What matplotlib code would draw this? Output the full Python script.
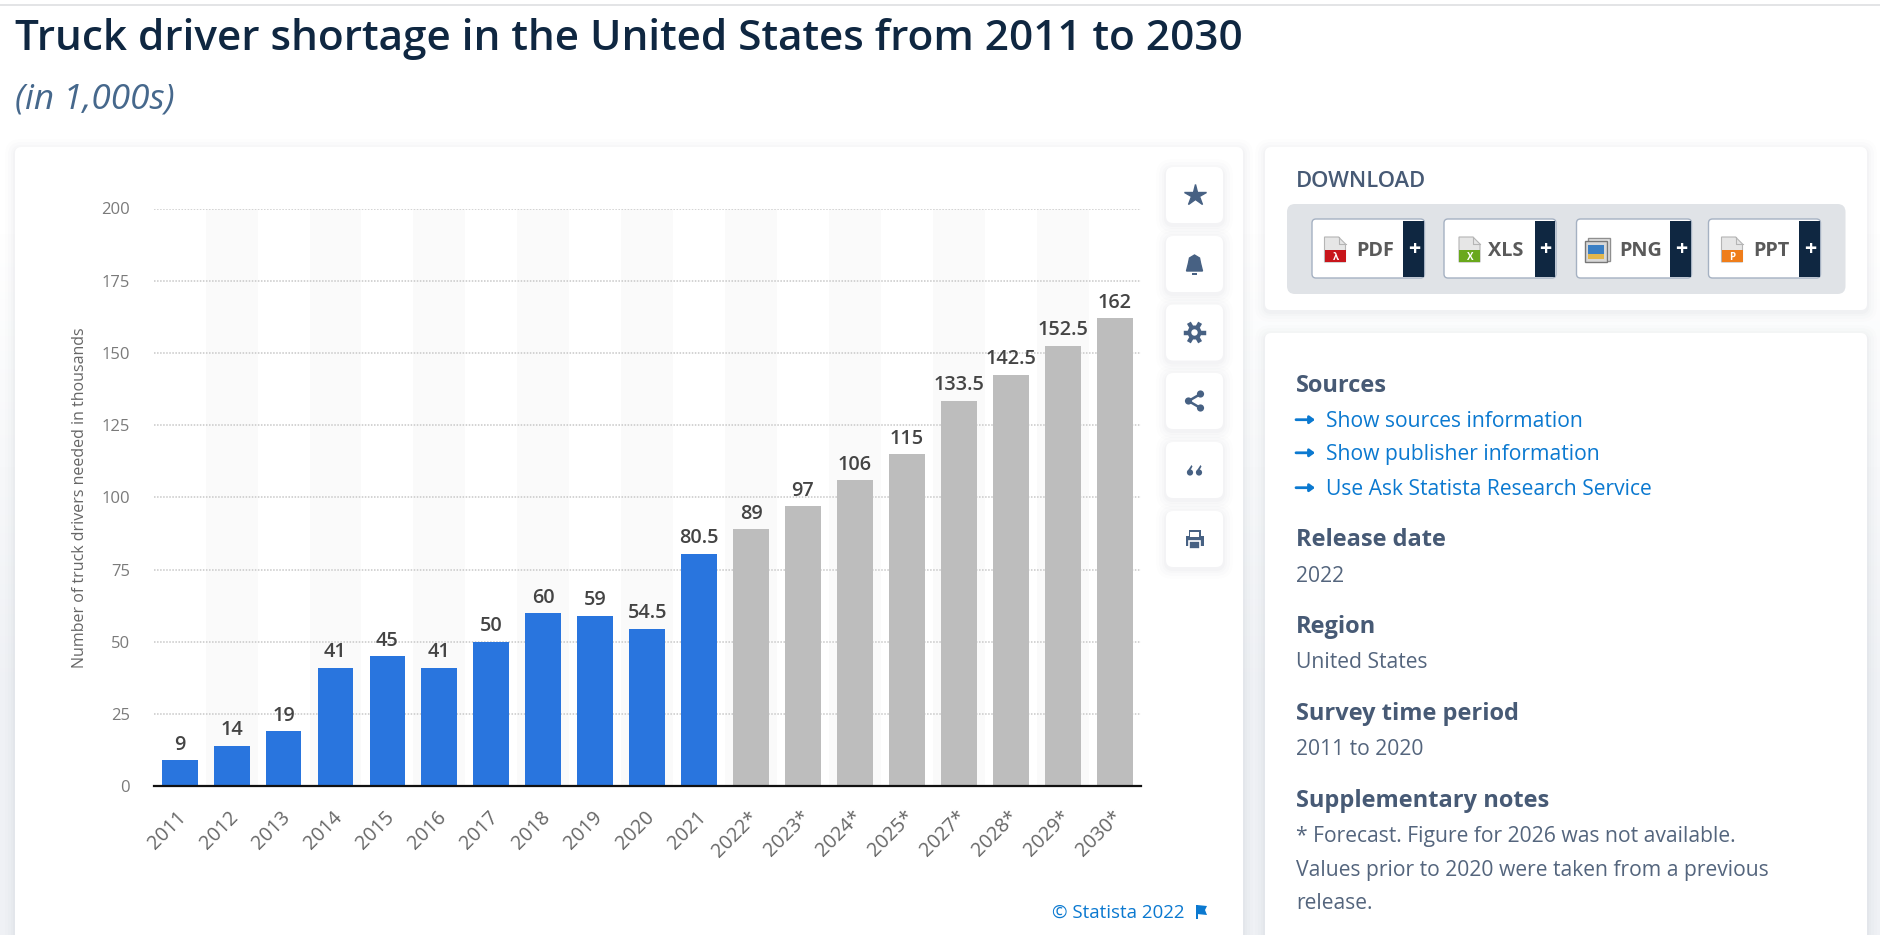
import numpy as np
import matplotlib
matplotlib.use("Agg")
import matplotlib.pyplot as plt
from matplotlib.patches import FancyBboxPatch, Rectangle, Polygon, Circle
from matplotlib.colors import LinearSegmentedColormap
from matplotlib.transforms import ScaledTranslation

plt.rcParams["font.family"] = ["Open Sans", "DejaVu Sans"]

# chart data
years = ["2011", "2012", "2013", "2014", "2015", "2016", "2017", "2018", "2019",
         "2020", "2021", "2022*", "2023*", "2024*", "2025*", "2027*", "2028*",
         "2029*", "2030*"]
values = [9, 14, 19, 41, 45, 41, 50, 60, 59, 54.5, 80.5, 89, 97, 106, 115,
          133.5, 142.5, 152.5, 162]
forecast = [False] * 11 + [True] * 8
y_ticks = [0, 25, 50, 75, 100, 125, 150, 175, 200]

W, H = 1880, 935
BLUE = "#2975de"
GREY = "#bdbdbd"
NAVY = "#0f2741"
SLATE = "#475a75"
BODY = "#54657d"
LINK = "#0b79d0"
TEXT_X = 1296

fig = plt.figure(figsize=(W / 100, H / 100), dpi=100, facecolor="white")

# whole-page axes in pixel coordinates for the surrounding page
page = fig.add_axes([0, 0, 1, 1], zorder=0)
page.axis("off")

bg = LinearSegmentedColormap.from_list("bg", ["#ffffff", "#ffffff", "#f7f8fa", "#eff1f5", "#eff1f5"])
page.imshow(np.linspace(0, 1, 256).reshape(-1, 1), cmap=bg, extent=[0, W, H, 0], aspect="auto", zorder=0)
page.set_xlim(0, W)
page.set_ylim(H, 0)

page.plot([0, W], [5, 5], color="#dedfe1", lw=1.2, zorder=1)


def card(x0, y0, x1, y1, face="white", radius=6, shadow=True, zorder=2, edge="none", lw=0):
    if shadow:
        for grow, a in [(10, 0.008), (7, 0.01), (4, 0.015), (2, 0.02)]:
            page.add_patch(FancyBboxPatch((x0 - grow, y0 - grow + 2), x1 - x0 + 2 * grow, y1 - y0 + 2 * grow,
                                          boxstyle=f"round,pad=0,rounding_size={radius + grow}",
                                          fc="#40506a", ec="none", alpha=a, zorder=zorder))
    page.add_patch(FancyBboxPatch((x0, y0), x1 - x0, y1 - y0,
                                  boxstyle=f"round,pad=0,rounding_size={radius}",
                                  fc=face, ec=edge, lw=lw, zorder=zorder + 0.1))


def label(x, y, s, size, color, **kw):
    page.text(x, y, s, fontsize=size, color=color, va="baseline", zorder=6, **kw)


card(15, 147, 1243, 990)
card(1265, 147, 1867, 310)
card(1265, 333, 1867, 990)

label(15, 50, "Truck driver shortage in the United States from 2011 to 2030", 30.4, NAVY, fontweight="semibold")
label(15, 108, "(in 1,000s)", 25.3, "#46688c", fontstyle="italic")

# side icon buttons
icon_x = 1194.5
icon_ys = [195, 264, 332.5, 401, 470, 539]
for cy in icon_ys:
    card(1166, cy - 28, 1223, cy + 28, radius=7, zorder=3)

ICON = "#476183"
page.plot(icon_x, icon_ys[0], marker="*", ms=16, color=ICON, mec=ICON, zorder=6)
# bell
cy = icon_ys[1]
page.add_patch(Polygon([(icon_x - 8, cy + 7), (icon_x - 6, cy - 1), (icon_x - 5, cy - 6), (icon_x, cy - 9),
                        (icon_x + 5, cy - 6), (icon_x + 6, cy - 1), (icon_x + 8, cy + 7)], fc=ICON, ec=ICON, zorder=6))
page.add_patch(Rectangle((icon_x - 2.5, cy + 8.5), 5, 2, fc=ICON, ec="none", zorder=6))
# gear
cy = icon_ys[2]
for ang in np.deg2rad([0, 60, 120]):
    page.plot([icon_x - 9 * np.cos(ang), icon_x + 9 * np.cos(ang)],
              [cy - 9 * np.sin(ang), cy + 9 * np.sin(ang)], color=ICON, lw=3.2, zorder=6)
page.add_patch(Circle((icon_x, cy), 7, fc=ICON, ec="none", zorder=6))
page.add_patch(Circle((icon_x, cy), 3.2, fc="white", ec="none", zorder=6.1))
# share
cy = icon_ys[3]
page.plot([icon_x + 6, icon_x - 6, icon_x + 6], [cy - 7, cy, cy + 7], color=ICON, lw=1.8, zorder=6)
for dx, dy in [(6, -7), (-6, 0), (6, 7)]:
    page.add_patch(Circle((icon_x + dx, cy + dy), 3.6, fc=ICON, ec="none", zorder=6))
# quote
cy = icon_ys[4]
for dx in (-4.5, 4.5):
    page.add_patch(Circle((icon_x + dx, cy + 2.5), 3.1, fc=ICON, ec="none", zorder=6))
    page.add_patch(Polygon([(icon_x + dx - 3.1, cy + 2), (icon_x + dx + 1.5, cy - 5), (icon_x + dx + 2.5, cy - 3.5),
                            (icon_x + dx, cy + 1)], fc=ICON, ec="none", zorder=6))
# printer
cy = icon_ys[5]
page.add_patch(Rectangle((icon_x - 9, cy - 3), 18, 10, fc=ICON, ec="none", zorder=6))
page.add_patch(Rectangle((icon_x - 6, cy - 9), 12, 6, fc=ICON, ec="none", zorder=6))
page.add_patch(Rectangle((icon_x - 4.5, cy - 7.5), 9, 5, fc="white", ec="none", zorder=6.1))
page.add_patch(Rectangle((icon_x - 5.5, cy + 2), 11, 8, fc=ICON, ec="white", lw=1.2, zorder=6.1))

# download panel
label(TEXT_X, 186.7, "DOWNLOAD", 15.8, SLATE, fontweight="semibold")
card(1287, 204, 1845.5, 294, face="#e0e3e7", radius=8, shadow=False, zorder=3)

formats = ["PDF", "XLS", "PNG", "PPT"]
btn_left = [1312, 1444, 1576.5, 1708.5]
btn_dark = [1403, 1535, 1670, 1799]
btn_right = [1424.5, 1556, 1691.5, 1820.5]
text_x = [1356, 1488.5, 1619, 1753]
icon_left = [1324.5, 1459, 1585, 1721.5]
icon_cols = ["#c8151b", "#69a81c", "#3b7fc4", "#ef7d1a"]
icon_marks = ["\u03bb", "X", "", "P"]

for i, name in enumerate(formats):
    card(btn_left[i], 219, btn_right[i], 278, radius=4, shadow=False, zorder=3.5, edge="#a5b1c2", lw=1)
    page.add_patch(Rectangle((btn_dark[i], 221), btn_right[i] - btn_dark[i] - 1, 56, fc=NAVY, ec="none", zorder=4))
    label((btn_dark[i] + btn_right[i]) / 2, 255, "+", 15.5, "white", ha="center", fontweight="bold")
    label(text_x[i], 256, name, 14.3, "#5a5a5a", fontweight="bold")
    x0 = icon_left[i]
    if name == "PNG":
        page.add_patch(Rectangle((x0 + 3, 238), 22, 23, fc="#e4e4e4", ec="#8f8f8f", lw=1, zorder=4))
        page.add_patch(Rectangle((x0, 241), 22, 21, fc="#d8d8d8", ec="#777777", lw=1, zorder=4.1))
        page.add_patch(Rectangle((x0 + 3, 245), 16, 14, fc=icon_cols[i], ec="none", zorder=4.2))
        page.add_patch(Rectangle((x0 + 3, 254), 16, 5, fc="#e2b64b", ec="none", zorder=4.3))
    else:
        page.add_patch(Polygon([(x0, 237), (x0 + 14, 237), (x0 + 21, 244), (x0 + 21, 262), (x0, 262)],
                               fc="#e6e6e6", ec="#b5b5b5", lw=0.8, zorder=4))
        page.plot([x0 + 14, x0 + 14, x0 + 21], [237, 244, 244], color="#b5b5b5", lw=0.8, zorder=4.05)
        page.add_patch(Rectangle((x0, 250), 21, 12, fc=icon_cols[i], ec="none", zorder=4.1))
        page.text(x0 + 11, 260.5, icon_marks[i], fontsize=7, color="white", ha="center", va="baseline",
                  fontweight="bold", zorder=4.2)

# metadata column
label(TEXT_X, 391.7, "Sources", 17, SLATE, fontweight="bold")
links = ["Show sources information", "Show publisher information", "Use Ask Statista Research Service"]
link_y = [426.7, 459.8, 494.7]
for s, y in zip(links, link_y):
    page.annotate("", xy=(1315, y - 7), xytext=(1296, y - 7),
                  arrowprops=dict(arrowstyle="-|>,head_width=0.22,head_length=0.3", color=LINK, lw=2, shrinkA=0, shrinkB=0),
                  zorder=6)
    label(1325.5, y, s, 15.25, LINK)

headings = ["Release date", "Region", "Survey time period", "Supplementary notes"]
head_y = [546, 632.7, 719.5, 806.7]
for s, y in zip(headings, head_y):
    label(TEXT_X, y, s, 17, SLATE, fontweight="bold")

details = ["2022", "United States", "2011 to 2020", "* Forecast. Figure for 2026 was not available.",
           "Values prior to 2020 were taken from a previous", "release."]
detail_y = [581.7, 667.7, 755, 841.7, 875.7, 909]
for s, y in zip(details, detail_y):
    label(TEXT_X, y, s, 15.2, BODY)

label(1051.5, 918, "\u00a9 Statista 2022", 13.5, LINK)
page.add_patch(Rectangle((1196, 905), 1.8, 14, fc=LINK, ec="none", zorder=6))
page.add_patch(Polygon([(1197, 905), (1207, 906), (1205, 910), (1207, 915), (1197, 914)], fc=LINK, ec="none", zorder=6))

# the chart itself
ax_left, ax_right, ax_top, ax_bottom = 153.7, 1140.6, 208.5, 786.3
ax = fig.add_axes([ax_left / W, 1 - ax_bottom / H, (ax_right - ax_left) / W, (ax_bottom - ax_top) / H], zorder=5)
ax.patch.set_alpha(0)
x = np.arange(len(years))
ax.set_xlim(-0.5, len(years) - 0.5)
ax.set_ylim(0, 200)

for i in x[1::2]:
    ax.axvspan(i - 0.5, i + 0.5, color="#fafafa", lw=0, zorder=0)

ax.set_yticks(y_ticks)
ax.yaxis.grid(True, color="#c8c8c8", linestyle=(0, (1, 1)), lw=1.1, zorder=1)
ax.set_axisbelow(True)

colors = [GREY if f else BLUE for f in forecast]
ax.bar(x, values, width=0.69, color=colors, zorder=2)

for xi, v in zip(x, values):
    ax.annotate(f"{v:g}", (xi, v), xytext=(0, 7.5), textcoords="offset points", ha="center", va="baseline",
                fontsize=14.3, color="#444444", fontweight="semibold", zorder=3)

for side in ["top", "right", "left"]:
    ax.spines[side].set_visible(False)
ax.spines["bottom"].set_linewidth(1.6)
ax.spines["bottom"].set_color("#111111")
ax.tick_params(axis="both", length=0)
ax.tick_params(axis="y", labelsize=12, labelcolor="#7a7a7a", pad=17)
ax.set_xticks(x)
ax.set_xticklabels(years, rotation=45, ha="right", rotation_mode="anchor", fontsize=14.2, color="#666666")
ax.tick_params(axis="x", pad=15)
shift = ScaledTranslation(-3 / 100, 0, fig.dpi_scale_trans)
for t in ax.get_xticklabels():
    t.set_transform(t.get_transform() + shift)
ax.set_ylabel("Number of truck drivers needed in thousands", fontsize=11.55, color="#666666")
ax.yaxis.set_label_coords((87.6 - ax_left) / (ax_right - ax_left), 0.5)

fig.savefig("out.png", dpi=100, facecolor="white")
